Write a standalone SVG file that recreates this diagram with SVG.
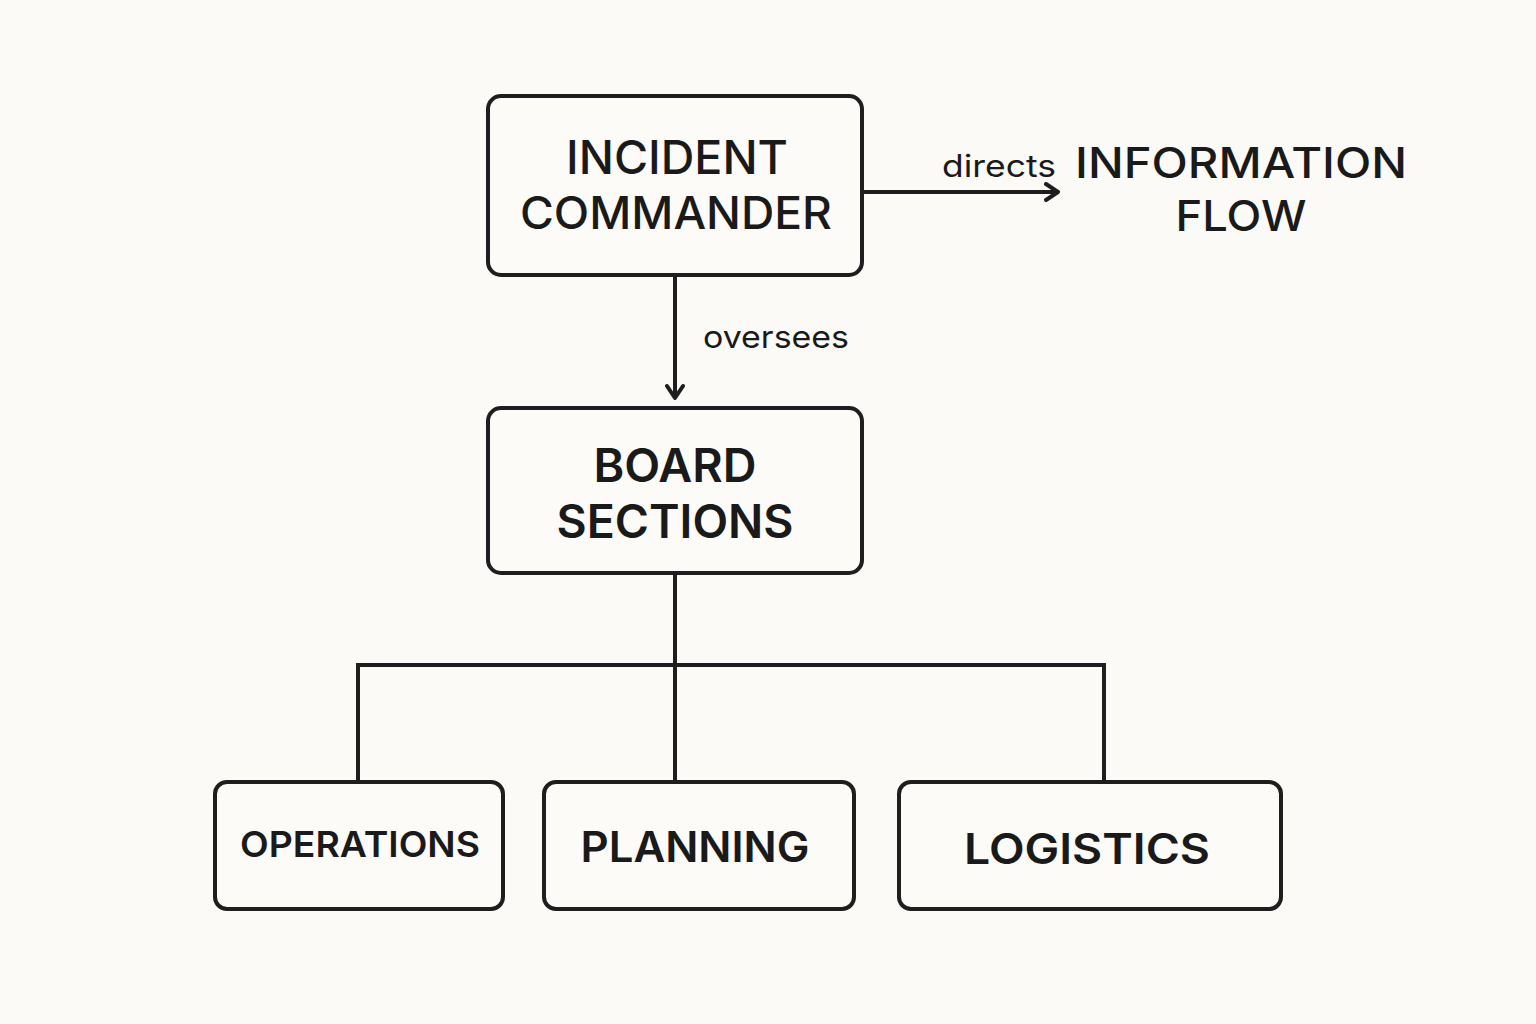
<svg xmlns="http://www.w3.org/2000/svg" width="1536" height="1024" viewBox="0 0 1536 1024">
<style>
.box{fill:#fdfbf8;stroke:#1e1e1e;stroke-width:4}
.line{fill:none;stroke:#1e1e1e;stroke-width:4}
.t{font-family:Inter,"Noto Sans","Liberation Sans",sans-serif;font-weight:600;fill:#1a1a1a;text-anchor:middle}
.m{font-weight:500}
.l{font-family:Inter,"Noto Sans","Liberation Sans",sans-serif;font-weight:400;fill:#1a1a1a}
</style>
<defs>
<marker id="arr" viewBox="0 0 20 20" refX="16" refY="10" markerWidth="20" markerHeight="20" markerUnits="userSpaceOnUse" orient="auto">
<path d="M4,2 L16,10 L4,18" fill="none" stroke="#1e1e1e" stroke-width="4" stroke-linecap="round" stroke-linejoin="round"/>
</marker>
</defs>
<rect width="1536" height="1024" fill="#fcfaf7"/>
<g id="connectors">
<line class="line" x1="675" y1="275" x2="675" y2="398" marker-end="url(#arr)"/>
<line class="line" x1="862" y1="192" x2="1058" y2="192" marker-end="url(#arr)"/>
<path class="line" d="M675,573 V665 M358,782 V665 H1104 V782 M675,665 V782"/>
<text class="l" x="942" y="177" font-size="31" textLength="114" lengthAdjust="spacingAndGlyphs">directs</text>
<text class="l" x="703" y="348" font-size="31" textLength="146" lengthAdjust="spacingAndGlyphs">oversees</text>
</g>
<g id="incident-commander">
<rect class="box" x="488" y="96" width="374" height="179" rx="13"/>
<text class="t m" x="677" y="174" font-size="46" textLength="222" lengthAdjust="spacingAndGlyphs">INCIDENT</text>
<text class="t m" x="676" y="229" font-size="45" textLength="312" lengthAdjust="spacingAndGlyphs">COMMANDER</text>
</g>
<g id="information-flow">
<text class="t m" x="1241" y="178" font-size="42" textLength="332" lengthAdjust="spacingAndGlyphs">INFORMATION</text>
<text class="t m" x="1241" y="231" font-size="42" textLength="131" lengthAdjust="spacingAndGlyphs">FLOW</text>
</g>
<g id="board-sections">
<rect class="box" x="488" y="408" width="374" height="165" rx="13"/>
<text class="t" x="675" y="482" font-size="46" textLength="163" lengthAdjust="spacingAndGlyphs">BOARD</text>
<text class="t" x="675" y="538" font-size="46" textLength="237" lengthAdjust="spacingAndGlyphs">SECTIONS</text>
</g>
<g id="operations">
<rect class="box" x="215" y="782" width="288" height="127" rx="12"/>
<text class="t" x="360" y="857" font-size="36" textLength="240" lengthAdjust="spacingAndGlyphs">OPERATIONS</text>
</g>
<g id="planning">
<rect class="box" x="544" y="782" width="310" height="127" rx="12"/>
<text class="t" x="695" y="862" font-size="42" textLength="229" lengthAdjust="spacingAndGlyphs">PLANNING</text>
</g>
<g id="logistics">
<rect class="box" x="899" y="782" width="382" height="127" rx="12"/>
<text class="t" x="1087" y="864" font-size="43" textLength="246" lengthAdjust="spacingAndGlyphs">LOGISTICS</text>
</g>
</svg>
